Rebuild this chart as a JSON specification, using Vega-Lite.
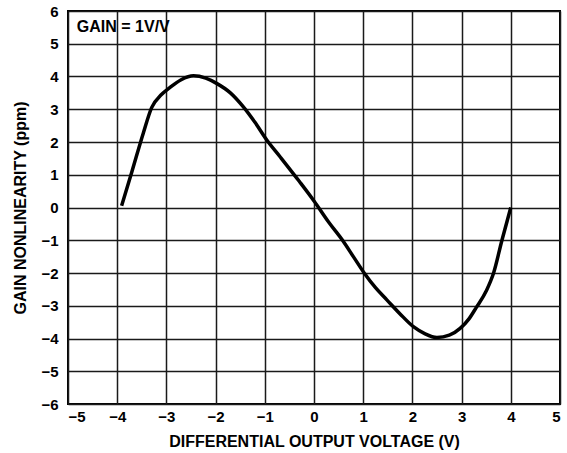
{
  "$schema": "https://vega.github.io/schema/vega-lite/v6.json",
  "autosize": "none",
  "width": 492,
  "height": 393,
  "padding": {"left": 68, "top": 11, "right": 7, "bottom": 49},
  "background": "white",
  "config": {
    "font": "Liberation Sans",
    "view": {"stroke": "black", "strokeWidth": 2},
    "axis": {
      "labelFont": "Liberation Sans",
      "labelFontWeight": "bold",
      "labelFontSize": 15,
      "labelColor": "black",
      "labelOverlap": false,
      "titleFont": "Liberation Sans",
      "titleFontWeight": "bold",
      "titleFontSize": 16,
      "titleColor": "black",
      "grid": true,
      "gridColor": "#1a1a1a",
      "gridWidth": 1.5,
      "gridOpacity": 1,
      "domain": false,
      "ticks": false
    }
  },
  "layer": [
    {
      "data": {
        "values": [
          {"v": -3.91, "g": 0.05},
          {"v": -3.7, "g": 1.1},
          {"v": -3.47, "g": 2.27},
          {"v": -3.3, "g": 3.05},
          {"v": -3.1, "g": 3.45},
          {"v": -2.93, "g": 3.66},
          {"v": -2.7, "g": 3.9},
          {"v": -2.45, "g": 4.02},
          {"v": -2.2, "g": 3.95},
          {"v": -1.98, "g": 3.79},
          {"v": -1.7, "g": 3.5},
          {"v": -1.44, "g": 3.08},
          {"v": -1.2, "g": 2.6},
          {"v": -0.96, "g": 2.06},
          {"v": -0.69, "g": 1.55},
          {"v": -0.3, "g": 0.8},
          {"v": 0.0, "g": 0.2},
          {"v": 0.3, "g": -0.45},
          {"v": 0.58, "g": -1.0},
          {"v": 0.8, "g": -1.5},
          {"v": 1.02, "g": -2.0},
          {"v": 1.25, "g": -2.45},
          {"v": 1.48, "g": -2.82},
          {"v": 1.75, "g": -3.25},
          {"v": 2.02, "g": -3.64},
          {"v": 2.25, "g": -3.85},
          {"v": 2.5, "g": -3.97},
          {"v": 2.75, "g": -3.9},
          {"v": 2.97, "g": -3.69},
          {"v": 3.15, "g": -3.4},
          {"v": 3.3, "g": -3.05},
          {"v": 3.5, "g": -2.55},
          {"v": 3.65, "g": -2.0},
          {"v": 3.82, "g": -1.0},
          {"v": 4.0, "g": 0.0}
        ]
      },
      "mark": {"type": "line", "color": "black", "strokeWidth": 3.5, "interpolate": "monotone"},
      "encoding": {
        "x": {
          "field": "v", "type": "quantitative",
          "scale": {"domain": [-5, 5], "nice": false},
          "axis": {"values": [-5, -4, -3, -2, -1, 0, 1, 2, 3, 4, 5], "labelPadding": 5, "title": "DIFFERENTIAL OUTPUT VOLTAGE (V)", "titlePadding": 9}
        },
        "y": {
          "field": "g", "type": "quantitative",
          "scale": {"domain": [-6, 6], "nice": false},
          "axis": {"values": [-6, -5, -4, -3, -2, -1, 0, 1, 2, 3, 4, 5, 6], "labelPadding": 10, "title": "GAIN NONLINEARITY (ppm)", "titlePadding": 12}
        }
      }
    },
    {
      "data": {"values": [{"label": "GAIN = 1V/V"}]},
      "mark": {"type": "text", "align": "left", "baseline": "middle", "fontSize": 16, "fontWeight": "bold", "font": "Liberation Sans", "color": "black"},
      "encoding": {
        "x": {"datum": -4.82, "type": "quantitative", "axis": {"values": [-5, -4, -3, -2, -1, 0, 1, 2, 3, 4, 5], "labelPadding": 5, "title": "DIFFERENTIAL OUTPUT VOLTAGE (V)", "titlePadding": 9}},
        "y": {"datum": 5.52, "type": "quantitative", "axis": {"values": [-6, -5, -4, -3, -2, -1, 0, 1, 2, 3, 4, 5, 6], "labelPadding": 10, "title": "GAIN NONLINEARITY (ppm)", "titlePadding": 12}},
        "text": {"field": "label"}
      }
    }
  ]
}
